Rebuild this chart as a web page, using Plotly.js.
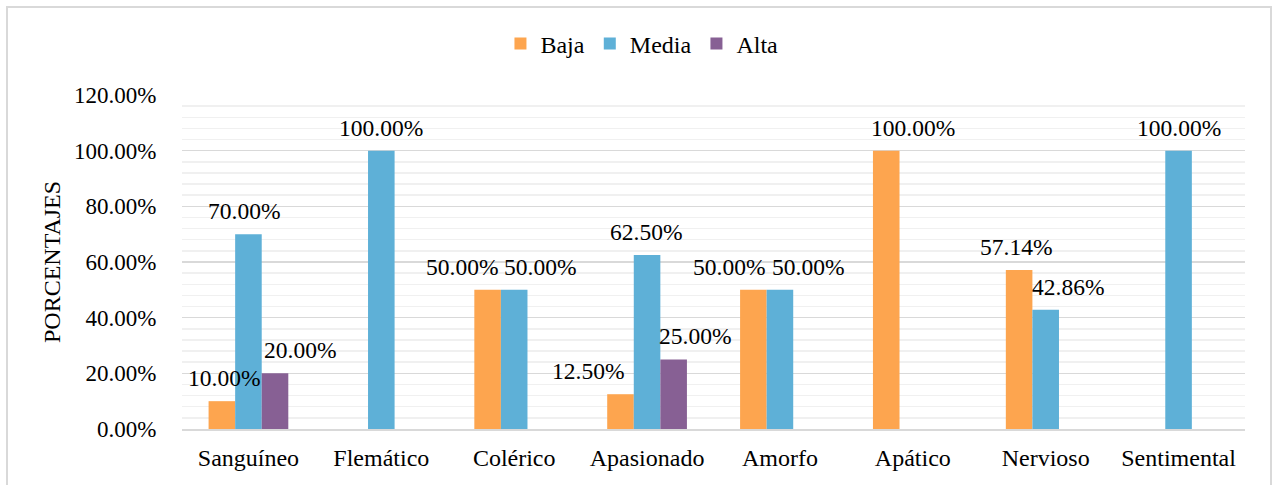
<!DOCTYPE html>
<html>
<head>
<meta charset="utf-8">
<script src="https://cdn.plot.ly/plotly-3.0.1.min.js"></script>
<style>
  html, body { margin: 0; padding: 0; background: #ffffff; }
  #frame { position: absolute; left: 6px; top: 6px; width: 1266px; height: 490px; border: 2px solid #d9d9d9; box-sizing: border-box; }
  #chart { position: absolute; left: 0; top: 0; width: 1277px; height: 485px; }
</style>
</head>
<body>
<div id="frame"></div>
<div id="chart"></div>
<script>
// ---- data ----
const categories = ["Sanguíneo", "Flemático", "Colérico", "Apasionado", "Amorfo", "Apático", "Nervioso", "Sentimental"];
const baja  = [10.00, null, 50.00, 12.50, 50.00, 100.00, 57.14, null];
const media = [70.00, 100.00, 50.00, 62.50, 50.00, null, 42.86, 100.00];
const alta  = [20.00, null, null, 25.00, null, null, null, null];
const seriesNames = ["Baja", "Media", "Alta"];
const yTicks = [0, 20, 40, 60, 80, 100, 120];

// ---- label nudges (px, style only) ----
const nudgeBaja  = [2, 0, -26, -32, -24, 27, -3, 0];
const nudgeMedia = [-4, 0, 26, -1, 28, 0, 22, 0];
const nudgeAlta  = [25, 0, 0, 21, 0, 0, 0, 0];

const colors = ["#fda54f", "#5eb0d7", "#876094"];
const font = "Liberation Serif";
const allSeries = [baja, media, alta];
const nudges = [nudgeBaja, nudgeMedia, nudgeAlta];

const traces = allSeries.map((vals, i) => ({
  type: "bar",
  name: seriesNames[i],
  x: categories,
  y: vals,
  marker: { color: colors[i], line: { width: 0 } },
  hoverinfo: "x+y+name"
}));

const bargap = 0.4;
const slot = (1 - bargap) / 3;
const annotations = [];
allSeries.forEach((vals, i) => {
  vals.forEach((v, j) => {
    if (v === null || v === undefined) return;
    annotations.push({
      x: j + (i - 1) * slot,
      y: v,
      xref: "x", yref: "y",
      text: v.toFixed(2) + "%",
      showarrow: false,
      xanchor: "center", yanchor: "middle",
      xshift: nudges[i][j],
      yshift: 23,
      font: { family: font, size: 23.5, color: "#000000" }
    });
  });
});

const layout = {
  width: 1277, height: 485,
  margin: { l: 182, r: 32, t: 95, b: 56 },
  paper_bgcolor: "rgba(0,0,0,0)",
  plot_bgcolor: "rgba(0,0,0,0)",
  barmode: "group",
  bargap: bargap,
  bargroupgap: 0,
  font: { family: font, size: 24, color: "#000000" },
  showlegend: true,
  legend: {
    orientation: "h",
    x: 0.4327, xanchor: "center",
    y: 1.153, yanchor: "middle",
    font: { family: font, size: 24, color: "#000000" },
    itemwidth: 30,
    tracegroupgap: 0
  },
  xaxis: {
    type: "category",
    categoryarray: categories,
    showgrid: false,
    showline: true,
    linecolor: "#d9d9d9",
    linewidth: 2,
    ticks: "outside",
    ticklen: 6,
    tickcolor: "rgba(0,0,0,0)",
    tickfont: { family: font, size: 24, color: "#000000" },
    fixedrange: true
  },
  yaxis: {
    range: [0, 120],
    tickvals: yTicks,
    ticktext: yTicks.map(t => t.toFixed(2) + "%"),
    showgrid: true,
    gridcolor: "#d9d9d9",
    gridwidth: 1.5,
    zeroline: false,
    showline: false,
    ticks: "outside",
    ticklen: 20,
    tickcolor: "rgba(0,0,0,0)",
    tickfont: { family: font, size: 23, color: "#000000" },
    minor: { dtick: 4, tick0: 0, showgrid: true, gridcolor: "#f0f0f0", gridwidth: 1.5 },
    title: { text: "PORCENTAJES", font: { family: font, size: 24, color: "#000000" }, standoff: 6 },
    fixedrange: true
  },
  annotations: annotations
};

Plotly.newPlot("chart", traces, layout, { displayModeBar: false, staticPlot: true });
</script>
</body>
</html>
